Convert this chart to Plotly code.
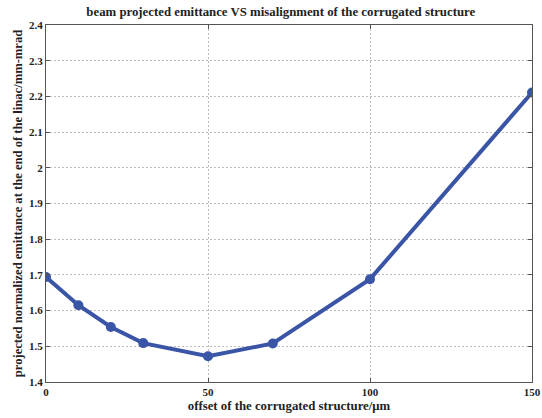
import plotly.graph_objects as go

offset_um = [0, 10, 20, 30, 50, 70, 100, 150]
emittance = [1.694, 1.615, 1.554, 1.509, 1.472, 1.508, 1.688, 2.211]

x_ticks = [0, 50, 100, 150]
y_ticks = [1.4, 1.5, 1.6, 1.7, 1.8, 1.9, 2.0, 2.1, 2.2, 2.3, 2.4]
y_tick_text = ["1.4", "1.5", "1.6", "1.7", "1.8", "1.9", "2", "2.1", "2.2", "2.3", "2.4"]

blue = "#3a55a6"
font_family = "Liberation Serif, DejaVu Serif, serif"

fig = go.Figure()
fig.add_trace(go.Scatter(
    x=offset_um, y=emittance, mode="lines+markers",
    line=dict(color=blue, width=4),
    marker=dict(color=blue, size=10, symbol="circle"),
    showlegend=False,
))

axis_common = dict(
    showline=True, linecolor="#555555", linewidth=1, mirror="ticks",
    ticks="inside", ticklen=4, tickcolor="#555555",
    showgrid=True, gridcolor="#bdbdbd", griddash="2px,2px", gridwidth=1,
    zeroline=False, automargin=False,
    tickfont=dict(family=font_family, size=11, color="#222222"),
)

fig.update_layout(
    width=542, height=418,
    margin=dict(l=46, r=10, t=25, b=36),
    paper_bgcolor="white", plot_bgcolor="white",
    font=dict(family=font_family, color="#222222"),
    title=dict(
        text="<b>beam projected emittance VS misalignment of the corrugated structure</b>",
        x=0.518, xanchor="center", y=0.972, yanchor="middle",
        font=dict(family=font_family, size=12.8, color="#222222"),
    ),
    xaxis=dict(
        range=[0, 150], tickvals=x_ticks, ticktext=[f"<b>{v}</b>" for v in x_ticks],
        title=dict(text="<b>offset of the corrugated structure/μm</b>", standoff=3,
                   font=dict(family=font_family, size=12.8, color="#222222")),
        **axis_common,
    ),
    yaxis=dict(
        range=[1.4, 2.4], tickvals=y_ticks, ticktext=[f"<b>{t}</b>" for t in y_tick_text],
        title=dict(text="<b>projected normalized emittance at the end of the linac/mm-mrad</b>", standoff=3,
                   font=dict(family=font_family, size=12.6, color="#222222")),
        **axis_common,
    ),
)

fig.write_html("out.html")
